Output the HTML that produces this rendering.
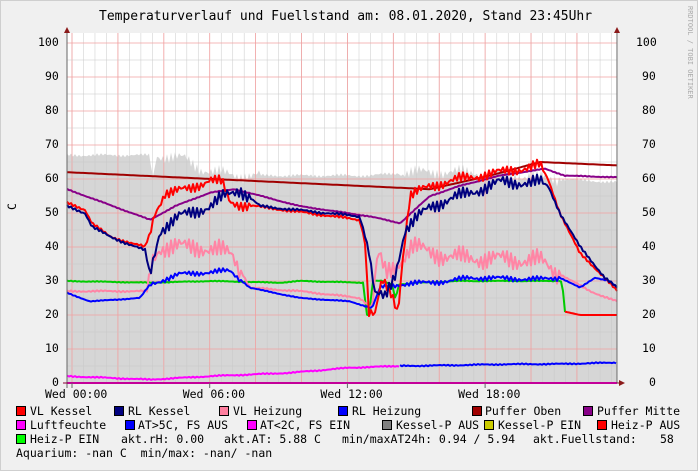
<!DOCTYPE html>
<html><head><meta charset="utf-8"><style>
body{margin:0;background:#f0f0f0;}
#w{position:relative;width:698px;height:471px;background:#f0f0f0;font-family:"DejaVu Sans Mono","Liberation Mono",monospace;color:#000;overflow:hidden;border:0}
.t{position:absolute;font-size:11.5px;white-space:pre;line-height:13px}
.b{position:absolute;width:8px;height:8px;border:1px solid #000}
</style></head><body><div id="w">
<svg id="s" width="698" height="471" style="position:absolute;left:0;top:0">
<rect x="0.5" y="0.5" width="697" height="470" fill="none" stroke="#cfcfcf"/>
<rect x="67" y="33" width="551" height="350" fill="#fff"/>
<g id="g"></g>
</svg>
<div class="t" style="left:99px;top:10px;font-size:13px">Temperaturverlauf und Fuellstand am: 08.01.2020, Stand 23:45Uhr</div>
<div class="t" style="left:683px;top:6px;font-size:7px;color:#aaa;writing-mode:vertical-rl">RRDTOOL / TOBI OETIKER</div>
<div class="t" style="left:9px;top:200px;transform:rotate(-90deg)">C</div>
<div id="lab"></div>
<div class="b" style="left:16px;top:406px;background:#f00"></div><div class="t" style="left:30px;top:405px">VL Kessel</div>
<div class="b" style="left:114px;top:406px;background:#00007f"></div><div class="t" style="left:128px;top:405px">RL Kessel</div>
<div class="b" style="left:219px;top:406px;background:#ff7f9f"></div><div class="t" style="left:233px;top:405px">VL Heizung</div>
<div class="b" style="left:338px;top:406px;background:#00f"></div><div class="t" style="left:352px;top:405px">RL Heizung</div>
<div class="b" style="left:472px;top:406px;background:#a00000"></div><div class="t" style="left:485px;top:405px">Puffer Oben</div>
<div class="b" style="left:583px;top:406px;background:#880088"></div><div class="t" style="left:597px;top:405px">Puffer Mitte</div>
<div class="b" style="left:16px;top:420px;background:#f0f"></div><div class="t" style="left:30px;top:419px">Luftfeuchte</div>
<div class="b" style="left:125px;top:420px;background:#00f"></div><div class="t" style="left:138px;top:419px">AT&gt;5C, FS AUS</div>
<div class="b" style="left:247px;top:420px;background:#f0f"></div><div class="t" style="left:260px;top:419px">AT&lt;2C, FS EIN</div>
<div class="b" style="left:382px;top:420px;background:#808080"></div><div class="t" style="left:396px;top:419px">Kessel-P AUS</div>
<div class="b" style="left:484px;top:420px;background:#cc0"></div><div class="t" style="left:498px;top:419px">Kessel-P EIN</div>
<div class="b" style="left:597px;top:420px;background:#f00"></div><div class="t" style="left:611px;top:419px">Heiz-P AUS</div>
<div class="b" style="left:16px;top:434px;background:#0f0"></div><div class="t" style="left:30px;top:433px">Heiz-P EIN</div>
<div class="t" style="left:121px;top:433px">akt.rH: 0.00</div>
<div class="t" style="left:224px;top:433px">akt.AT: 5.88 C</div>
<div class="t" style="left:342px;top:433px">min/maxAT24h: 0.94 / 5.94</div>
<div class="t" style="left:533px;top:433px">akt.Fuellstand:</div>
<div class="t" style="left:660px;top:433px">58</div>
<div class="t" style="left:16px;top:447px">Aquarium: -nan C  min/max: -nan/ -nan</div>
</div>
<script>
var g=document.getElementById('g'),NS='http://www.w3.org/2000/svg',L=67,R=617;
function Y(v){return 383-3.4*v}
function el(n,a){var e=document.createElementNS(NS,n);for(var k in a)e.setAttribute(k,a[k]);g.appendChild(e);return e}
function interp(p,x){for(var i=0;i<p.length-1;i++){if(x>=p[i][0]&&x<=p[i+1][0]){var a=p[i],b=p[i+1];return b[0]==a[0]?b[1]:a[1]+(b[1]-a[1])*(x-a[0])/(b[0]-a[0])}}return null}
function pts(p,amp,st){st=st||2;var o=[];for(var x=p[0][0];x<=p[p.length-1][0];x+=st){var v=interp(p,x);if(v==null)continue;var a=typeof amp=='function'?amp(x):amp;v+=a*(Math.sin(x*1.7)+0.6*Math.sin(x*3.3+1));o.push(x.toFixed(1)+','+Y(v).toFixed(1))}return o}
function line(p,c,amp,w){el('polyline',{points:pts(p,amp||0).join(' '),fill:'none',stroke:c,'stroke-width':w||2,'stroke-linejoin':'round'})}
var ga=[[67,67],[150,67],[153,60],[156,67],[185,66],[200,63],[215,62],[240,61],[300,61],[370,61],[410,62],[470,62],[520,61],[560,60],[617,59]];
var ap=pts(ga,function(x){return (x>150&&x<260)||(x>400&&x<560)?1.5:0.4},2);
el('polygon',{points:L+',383 '+ap.join(' ')+' '+R+',383',fill:'#d6d6d6'});
for(var x=72;x<R;x+=11.48){if(x<L)continue;el('line',{x1:x,y1:33,x2:x,y2:383,stroke:'#c8c8c8','stroke-width':0.6,opacity:0.8})}
for(var x=72;x<R;x+=45.9){el('line',{x1:x,y1:33,x2:x,y2:383,stroke:'#f2a0a0','stroke-width':0.8})}
for(var v=5;v<=100;v+=10){el('line',{x1:L,y1:Y(v),x2:R,y2:Y(v),stroke:'#c8c8c8','stroke-width':0.6})}
for(var v=10;v<=100;v+=10){el('line',{x1:L,y1:Y(v),x2:R,y2:Y(v),stroke:'#f2a0a0','stroke-width':0.8})}
line([[67,30],[150,29.5],[210,30],[280,29.5],[300,30],[364,29.5],[366,20],[370,20],[372,30],[380,30],[382,30],[392,29],[396,24],[398,29],[420,29.5],[460,30],[562,30],[565,21]],'#0c0',0.1);
line([[565,21],[580,20],[617,20]],'#f00',0);
line([[67,27],[148,27],[152,36],[160,40],[200,40],[232,38],[250,28],[300,27],[360,25],[372,22],[378,38],[386,32],[400,36],[412,40],[450,37],[540,36],[560,32],[590,27],[617,24]],'#ff85a5',function(x){return (x>148&&x<240)||(x>372&&x<560)?2.2:0.2});
line([[67,26.5],[90,24],[140,25],[150,29],[180,32],[230,33],[250,28],[300,25],[350,24],[372,22],[380,28],[400,29],[450,30],[470,31],[540,30.5],[560,31],[580,28],[595,31],[610,30],[617,28]],'#00f',function(x){return x>150&&x<240||x>380&&x<560?0.6:0.1});
line([[67,62],[430,57],[490,61],[540,65],[617,64]],'#a00000',0);
line([[67,57],[150,48],[175,52],[210,56],[235,57],[300,52],[370,49],[400,47],[430,55],[460,58],[500,61],[545,63],[565,61],[617,60.5]],'#880088',0.1);
line([[67,53],[85,51],[92,47],[110,43],[145,40],[150,44],[155,50],[165,56],[190,57],[210,60],[222,59],[230,53],[255,52],[360,48],[366,40],[368,21],[375,20],[382,30],[392,26],[398,21],[402,35],[410,55],[430,58],[460,60],[500,62],[540,64],[548,60],[560,50],[580,38],[605,31],[617,27]],'#f00',function(x){return x>150&&x<250||x>365&&x<545?1.2:0.3});
line([[67,52],[85,50],[92,46],[110,43],[145,39],[150,32],[160,45],[180,49],[210,52],[225,55],[240,57],[260,52],[360,49],[368,40],[375,26],[385,25],[395,32],[405,45],[430,52],[470,56],[500,59],[540,59],[548,58],[560,50],[580,40],[605,31],[617,28]],'#00007f',function(x){return x>150&&x<250||x>370&&x<545?1.5:0.3});
line([[67,2],[150,1],[210,2],[290,3],[350,4.5],[400,5]],'#f0f',0.15);
line([[400,5],[450,5.2],[500,5.5],[560,5.6],[617,6]],'#00f',0.15);
el('line',{x1:L,y1:383,x2:R,y2:383,stroke:'#f0f','stroke-width':2});
el('line',{x1:67,y1:28,x2:67,y2:388,stroke:'#666','stroke-width':1});
el('line',{x1:617,y1:28,x2:617,y2:383,stroke:'#666','stroke-width':1});
el('line',{x1:63,y1:383,x2:622,y2:383,stroke:'#880033','stroke-width':1});
el('polygon',{points:'64,33 70,33 67,27',fill:'#8b1a1a'});
el('polygon',{points:'614,33 620,33 617,27',fill:'#8b1a1a'});
el('polygon',{points:'619,380 619,386 625,383',fill:'#8b1a1a'});
for(var x=72;x<R;x+=137.7){el('line',{x1:x,y1:383,x2:x,y2:388,stroke:'#666'})}
var lab='';for(var v=0;v<=100;v+=10){var y=Y(v)-7;lab+='<div class="t" style="left:'+(v==0?52:v==100?38:45)+'px;top:'+y+'px">'+v+'</div><div class="t" style="left:'+(v==100?636:v==0?649:642)+'px;top:'+y+'px">'+v+'</div>'}
var tl=['Wed 00:00','Wed 06:00','Wed 12:00','Wed 18:00'];for(var i=0;i<4;i++)lab+='<div class="t" style="left:'+(72+137.7*i-27)+'px;top:388px">'+tl[i]+'</div>';
document.getElementById('lab').innerHTML=lab;
</script>
</body></html>
